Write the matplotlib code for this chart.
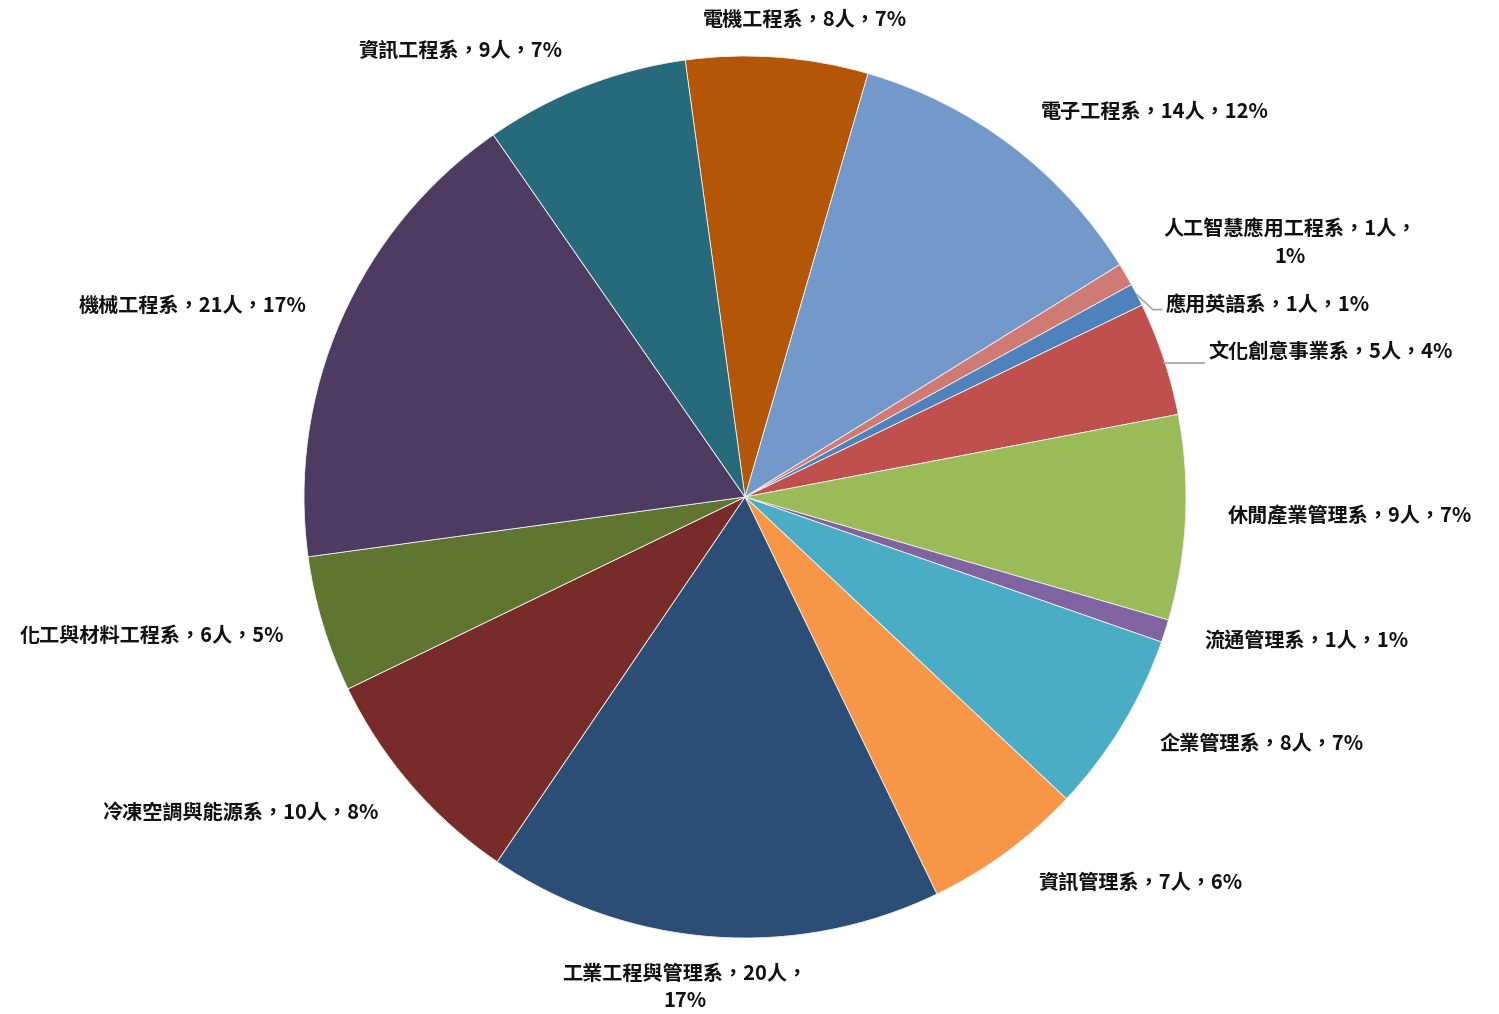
import matplotlib.pyplot as plt
import numpy as np

plt.rcParams['font.family'] = ['Noto Sans CJK TC', 'DejaVu Sans']

# departments, clockwise from the top
depts = ['電機工程系', '電子工程系', '人工智慧應用工程系', '應用英語系', '文化創意事業系',
         '休閒產業管理系', '流通管理系', '企業管理系', '資訊管理系', '工業工程與管理系',
         '冷凍空調與能源系', '化工與材料工程系', '機械工程系', '資訊工程系']
counts = [8, 14, 1, 1, 5, 9, 1, 8, 7, 20, 10, 6, 21, 9]
pcts = [7, 12, 1, 1, 4, 7, 1, 7, 6, 17, 8, 5, 17, 7]

colors = ['#B45608', '#7399CB', '#D07A76', '#4F81BD', '#C0504D', '#9BBB59', '#8064A2',
          '#4BACC6', '#F79646', '#2C4D75', '#772C2A', '#5F7530', '#4D3B62', '#276A7C']

# label centres (in pie radius units), tuned by eye
label_pos = [(0.136, 1.082), (0.93, 0.875), (1.236, 0.576), (1.186, 0.435), (1.327, 0.329),
             (1.372, -0.043), (1.272, -0.324), (1.172, -0.558), (0.896, -0.873),
             (-0.136, -1.111), (-1.145, -0.717), (-1.345, -0.315), (-1.252, 0.435),
             (-0.646, 1.014)]
wrap = {2, 9}

fig = plt.figure(figsize=(14.99, 10.14), dpi=100)
ax = fig.add_axes([0, 0, 1, 1])

R = 1.0
wedges, _ = ax.pie(counts, colors=colors, startangle=97.8, counterclock=False, radius=R,
                   wedgeprops=dict(edgecolor='#F2F2F2', linewidth=0.6))

# pixel placement: centre (745, 497), radius 441 px
W, H = 1499, 1014
cx, cy, rp = 745, 497, 441
ax.set_xlim(-cx / rp, (W - cx) / rp)
ax.set_ylim(-(H - cy) / rp, cy / rp)
ax.set_aspect('equal', adjustable='datalim')
ax.axis('off')

texts = []
for i, (d, c, p) in enumerate(zip(depts, counts, pcts)):
    if i in wrap:
        txt = f'{d}，{c}人，\n{p}%'
    else:
        txt = f'{d}，{c}人，{p}%'
    x, y = label_pos[i]
    t = ax.text(x, y, txt, ha='center', va='center', fontsize=14.5, fontweight='bold',
                color='#111111', linespacing=1.35)
    texts.append(t)

fig.canvas.draw()
rend = fig.canvas.get_renderer()
inv = ax.transData.inverted()

# leader lines for the two thin slices on the right
for i in (3, 4):
    w = wedges[i]
    mid = np.deg2rad((w.theta1 + w.theta2) / 2)
    ex, ey = R * np.cos(mid), R * np.sin(mid)
    bb = texts[i].get_window_extent(rend)
    tx = inv.transform((bb.x0, bb.y0))[0] - 0.01
    ly = label_pos[i][1] - 0.01
    if i == 3:
        ax.plot([ex, tx - 0.02, tx], [ey, ly, ly], color='#A6A6A6', lw=1.2)
    else:
        ax.plot([ex, tx], [ey - 0.01, ey - 0.01], color='#A6A6A6', lw=1.2)

fig.savefig('out.png', dpi=100, facecolor='white')
